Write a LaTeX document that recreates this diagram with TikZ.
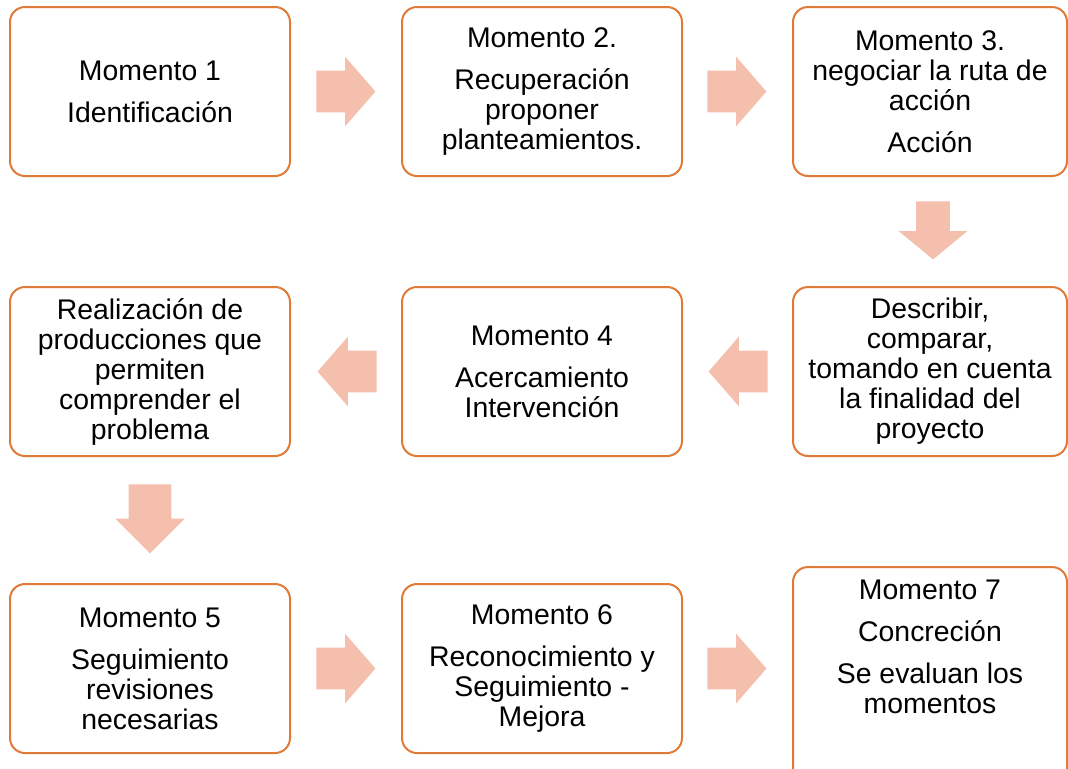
\documentclass[tikz,border=0pt]{standalone}
\usepackage{fontspec}
\setmainfont{Liberation Sans}
\usetikzlibrary{shapes.arrows,calc}
\definecolor{naranja}{HTML}{E07A38}
\definecolor{rosa}{HTML}{F4BFAD}
\begin{document}
\begin{tikzpicture}[x=0.5pt,y=-0.5pt,font=\fontsize{14.2}{15}\selectfont,
momento/.style={draw=naranja,line width=1pt,rounded corners=7.5pt,minimum width=140pt,minimum height=84.5pt,align=center,inner sep=0pt},
ancho/.style={minimum width=137pt},
flecha/.style={single arrow,fill=rosa,draw=none,anchor=tail,inner xsep=0pt,inner ysep=10.25pt,minimum height=29.5pt,single arrow head extend=7pt,single arrow tip angle=98},
abajo/.style={shape border rotate=270,inner ysep=0pt}]
\useasboundingbox (0,0) rectangle (1068,768);
\node[momento](m1) at (150,91.5){Momento 1\\[6pt]Identificación};
\node[momento](m2) at (542,91.5){Momento 2.\\[6pt]Recuperación\\proponer\\planteamientos.};
\node[momento,ancho](m3) at (930,91.5){Momento 3.\\negociar la ruta de\\acción\\[6pt]Acción};
\node[momento,ancho](m4) at (930,371.5){Describir,\\comparar,\\tomando en cuenta\\la finalidad del\\proyecto};
\node[momento](m5) at (542,371.5){Momento 4\\[6pt]Acercamiento\\Intervención};
\node[momento](m6) at (150,371.5){Realización de\\producciones que\\permiten\\comprender el\\problema};
\node[momento](m7) at (150,668.5){Momento 5\\[6pt]Seguimiento\\revisiones\\necesarias};
\node[momento](m8) at (542,668.5){Momento 6\\[6pt]Reconocimiento y\\Seguimiento -\\Mejora};
\node[momento,ancho,minimum height=111.5pt,label={[align=center,inner sep=0pt,anchor=north,yshift=-7pt]north:{Momento 7\\[6pt]Concreción\\[6pt]Se evaluan los\\momentos}}](m9) at (930,678.5){};
\node[flecha](f12) at ($(m1.east)+(25,0)$){};
\node[flecha](f23) at ($(m2.east)+(24,0)$){};
\node[flecha,abajo,inner xsep=8.25pt,minimum height=29pt,single arrow head extend=8.75pt,single arrow tip angle=101](f34) at ($(m3.south)+(3,24)$){};
\node[flecha,shape border rotate=180](f45) at ($(m4.west)+(-24,0)$){};
\node[flecha,shape border rotate=180](f56) at ($(m5.west)+(-24,0)$){};
\node[flecha,abajo,inner xsep=10.5pt,minimum height=34.5pt,single arrow head extend=6.75pt,single arrow tip angle=90](f67) at ($(m6.south)+(0,27)$){};
\node[flecha](f78) at ($(m7.east)+(25,0)$){};
\node[flecha](f89) at ($(m8.east)+(24,0)$){};
\end{tikzpicture}
\end{document}
